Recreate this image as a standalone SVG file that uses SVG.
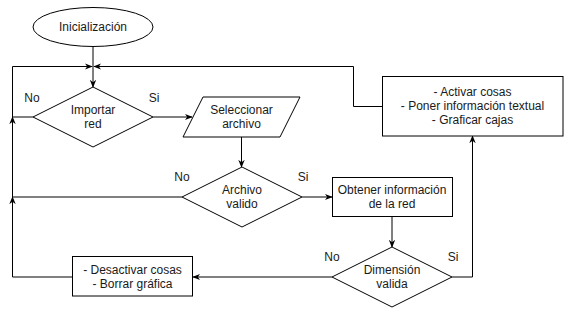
<svg xmlns="http://www.w3.org/2000/svg" width="567" height="312" viewBox="0 0 567 312">
  <defs>
    <marker id="arrow" viewBox="0 0 10 10" refX="9" refY="5" markerWidth="8" markerHeight="8" orient="auto" markerUnits="userSpaceOnUse">
      <path d="M0,1 L10,5 L0,9 L3,5 z" fill="#000"/>
    </marker>
    <style>
      .shape { fill: #fff; stroke: #000; stroke-width: 1; }
      .edge { fill: none; stroke: #000; stroke-width: 1; marker-end: url(#arrow); }
      text { font-family: "Liberation Sans", Arial, sans-serif; font-size: 12px; fill: #1a1a1a; text-anchor: middle; dominant-baseline: central; }
    </style>
  </defs>
  <rect width="567" height="312" fill="#fff"/>

  <!-- connectors -->
  <g id="connectors">
    <path class="edge" d="M93,46 L93,87"/>
    <path class="edge" d="M33,117 L12.5,117 L12.5,66.5 L92,66.5"/>
    <path class="edge" d="M153,117 L192,117"/>
    <path class="edge" d="M241.5,137 L241.5,167"/>
    <path class="edge" d="M182,197 L12.5,197 L12.5,117"/>
    <path class="edge" d="M302,197 L332,197"/>
    <path class="edge" d="M392,217 L392,247"/>
    <path class="edge" d="M452,277 L472.5,277 L472.5,136"/>
    <path class="edge" d="M332,277 L193,277"/>
    <path class="edge" d="M72.5,277 L12.5,277 L12.5,197"/>
    <path class="edge" d="M382,106.5 L353.5,106.5 L353.5,66.5 L94,66.5"/>
    <text x="32" y="98">No</text>
    <text x="154" y="98">Si</text>
    <text x="182" y="177">No</text>
    <text x="303" y="177">Si</text>
    <text x="332" y="257">No</text>
    <text x="453" y="257">Si</text>
  </g>

  <g id="inicializacion">
    <ellipse class="shape" cx="93" cy="27" rx="60" ry="19.5"/>
    <text x="93" y="27">Inicialización</text>
  </g>

  <g id="importar-red">
    <polygon class="shape" points="93,87 153,117 93,147 33,117"/>
    <text x="93" y="110">Importar</text>
    <text x="93" y="124">red</text>
  </g>

  <g id="seleccionar-archivo">
    <polygon class="shape" points="203,97 300,97 280,137 183,137"/>
    <text x="241.5" y="110">Seleccionar</text>
    <text x="241.5" y="124">archivo</text>
  </g>

  <g id="archivo-valido">
    <polygon class="shape" points="242,167 302,197 242,227 182,197"/>
    <text x="242" y="190">Archivo</text>
    <text x="242" y="204">valido</text>
  </g>

  <g id="obtener-informacion">
    <rect class="shape" x="332.5" y="177.5" width="120" height="39"/>
    <text x="392" y="190">Obtener información</text>
    <text x="392" y="204">de la red</text>
  </g>

  <g id="dimension-valida">
    <polygon class="shape" points="392,247 452,277 392,307 332,277"/>
    <text x="392" y="270">Dimensión</text>
    <text x="392" y="284">valida</text>
  </g>

  <g id="desactivar">
    <rect class="shape" x="72.5" y="256.5" width="120" height="39.5"/>
    <text x="132.5" y="269.5">- Desactivar cosas</text>
    <text x="132.5" y="284">- Borrar gráfica</text>
  </g>

  <g id="activar">
    <rect class="shape" x="382.5" y="76.5" width="180.5" height="59.5"/>
    <text x="472.5" y="92">- Activar cosas</text>
    <text x="472.5" y="106">- Poner información textual</text>
    <text x="472.5" y="120">- Graficar cajas</text>
  </g>
</svg>
